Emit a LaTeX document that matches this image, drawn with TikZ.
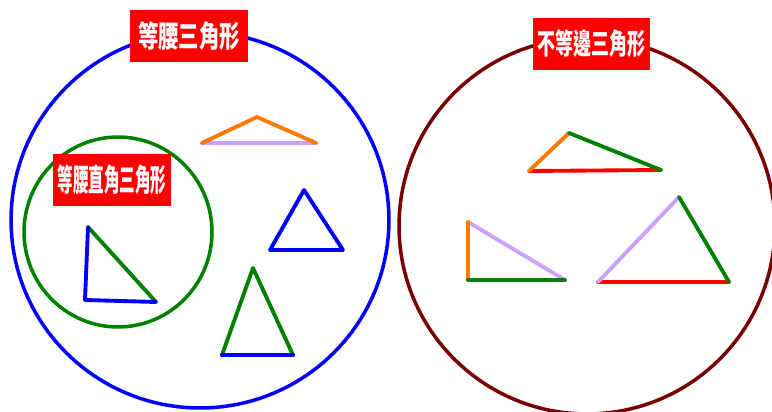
\documentclass[tikz,border=0pt]{standalone}
\usepackage{fontspec}
\usepackage{graphicx}
\newfontfamily\cjk{Noto Sans CJK TC}
\newcommand{\fitlabel}[3]{\resizebox*{#1}{#2}{\cjk\bfseries #3}}
\definecolor{myorange}{RGB}{255,120,0}
\definecolor{mypurple}{RGB}{204,160,255}
\definecolor{mygreen}{RGB}{0,128,0}
\definecolor{mybrown}{RGB}{120,0,0}
\tikzset{
  edge/.style={line width=2.2pt, line cap=round, line join=round},
  ring/.style={line width=2pt},
  tag/.style={fill=red, inner sep=0pt, minimum width=2.36cm, minimum height=1.04cm},
}
\begin{document}
\begin{tikzpicture}[x=0.02cm, y=-0.02cm]
    \useasboundingbox (0,0) rectangle (772,412);
    \clip (0,0) rectangle (772,412);

    % 左边：等腰三角形
    \draw[ring, blue] (200,220) ellipse [x radius=3.78cm, y radius=3.76cm];
    \draw[ring, mygreen] (118,232) ellipse [x radius=1.88cm, y radius=1.9cm];

    % 右边：不等邊三角形
    \draw[ring, mybrown] (587,226) ellipse [x radius=3.76cm, y radius=3.76cm];

    % 鈍角等腰
    \coordinate (a1) at (202,143);
    \coordinate (a2) at (257,117);
    \coordinate (a3) at (316,143);
    \draw[edge, mypurple] (a1) -- (a3);
    \draw[edge, myorange] (a1) -- (a2) -- (a3);

    % 正三角形
    \coordinate (b1) at (304,190);
    \coordinate (b2) at (270,250);
    \coordinate (b3) at (343,250);
    \draw[edge, blue] (b1) -- (b2) -- (b3) -- cycle;

    % 銳角等腰
    \coordinate (c1) at (253,268);
    \coordinate (c2) at (222,355);
    \coordinate (c3) at (293,355);
    \draw[edge, mygreen] (c2) -- (c1) -- (c3);
    \draw[edge, blue] (c2) -- (c3);

    % 等腰直角
    \coordinate (d1) at (88,227);
    \coordinate (d2) at (85,300);
    \coordinate (d3) at (156,302);
    \draw[edge, mygreen] (d1) -- (d3);
    \draw[edge, blue] (d1) -- (d2) -- (d3);

    % 鈍角不等邊
    \coordinate (e1) at (529,171);
    \coordinate (e2) at (569,133);
    \coordinate (e3) at (661,170);
    \draw[edge, red] (e1) -- (e3);
    \draw[edge, myorange] (e1) -- (e2);
    \draw[edge, mygreen] (e2) -- (e3);

    % 直角不等邊
    \coordinate (f1) at (468,222);
    \coordinate (f2) at (468,280);
    \coordinate (f3) at (565,280);
    \draw[edge, mypurple] (f1) -- (f3);
    \draw[edge, myorange] (f1) -- (f2);
    \draw[edge, mygreen] (f2) -- (f3);

    % 銳角不等邊
    \coordinate (g1) at (598,282);
    \coordinate (g2) at (679,197);
    \coordinate (g3) at (729,282);
    \draw[edge, red] (g1) -- (g3);
    \draw[edge, mypurple] (g1) -- (g2);
    \draw[edge, mygreen] (g2) -- (g3);

    % 標籤
    \node[tag] (isos) at (189,36) {\color{white}\fitlabel{2.04cm}{0.58cm}{等腰三角形}};
    \node[tag, minimum width=2.34cm] (scal) at (591.5,44) {\color{white}\fitlabel{2.16cm}{0.56cm}{不等邊三角形}};
    \node[tag] (right) at (112,180) {\color{white}\fitlabel{2.18cm}{0.6cm}{等腰直角三角形}};
\end{tikzpicture}
\end{document}
